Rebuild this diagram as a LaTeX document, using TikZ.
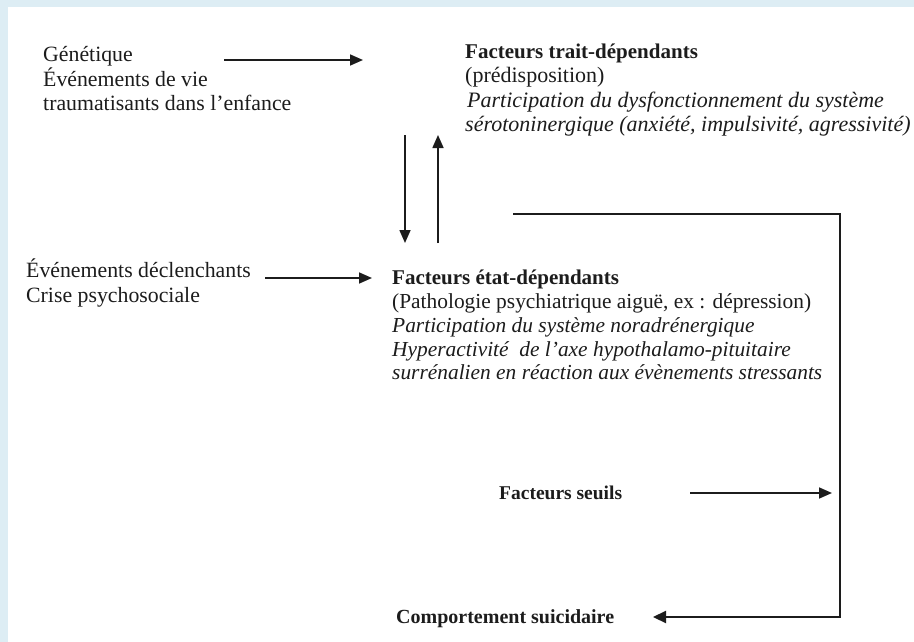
\documentclass[tikz,border=0pt]{standalone}
\usepackage{fontspec}
\setmainfont{Liberation Serif}
\usetikzlibrary{arrows.meta}

\definecolor{pageblue}{RGB}{221,237,244}
\definecolor{ink}{RGB}{28,28,28}

\begin{document}
\begin{tikzpicture}[x=1pt,y=-1pt,
    lbl/.style={anchor=north west,inner sep=0pt,align=left,text=ink,
        font=\fontsize{21.8}{24.8}\selectfont},
    arr/.style={draw=ink,line width=1.6pt,-{Triangle[length=13pt,width=11pt]}},
    loopline/.style={draw=ink,line width=2.2pt,-{Triangle[length=13pt,width=12pt]}}]
    \useasboundingbox (0,0) rectangle (914,642);
    \fill[pageblue] (0,0) rectangle (914,642);
    \fill[white] (8,7) rectangle (914,642);

    % causes
    \node[lbl] (gen) at (43,46) {Génétique\\Événements de vie\\traumatisants dans l’enfance};
    \node[lbl] (decl) at (26,259) {Événements déclenchants\\Crise psychosociale};

    % facteurs
    \node[lbl,font=\fontsize{22}{24.2}\selectfont] (trait) at (465,44)
        {\textbf{\fontsize{21}{24.2}\selectfont Facteurs trait-dépendants}\\(prédisposition)\\
        \textit{\hspace{2pt}Participation du dysfonctionnement du système}\\
        \textit{sérotoninergique (anxiété, impulsivité, agressivité)}};
    \node[lbl,font=\fontsize{21.4}{23.8}\selectfont] (etat) at (392,270)
        {\textbf{\fontsize{21}{23.8}\selectfont Facteurs état-dépendants}\\
        (Pathologie psychiatrique aiguë, ex : dépression)\\
        \textit{Participation du système noradrénergique}\\
        \textit{Hyperactivité\ \ de l’axe hypothalamo-pituitaire}\\
        \textit{surrénalien en réaction aux évènements stressants}};
    \node[lbl,anchor=base west,font=\fontsize{19.5}{22}\selectfont\bfseries] (seuil) at (499,499) {Facteurs seuils};
    \node[lbl,anchor=base west,font=\fontsize{20}{22}\selectfont\bfseries] (suic) at (396,623) {Comportement suicidaire};

    % arrow ends
    \coordinate (genR) at (224,60);
    \coordinate (traitL) at (363,60);
    \coordinate (traitB) at (405,135);
    \coordinate (etatT) at (405,243);
    \coordinate (etatB) at (438,243);
    \coordinate (traitD) at (438,135);
    \coordinate (declR) at (265,278);
    \coordinate (etatL) at (372,278);
    \coordinate (loopA) at (513,214);
    \coordinate (loopC) at (840,617);
    \coordinate (suicR) at (653,617);
    \coordinate (seuilR) at (690,493);
    \coordinate (loopS) at (832,493);

    \draw[arr] (genR) -- (traitL);
    \draw[arr] (traitB) -- (etatT);
    \draw[arr] (etatB) -- (traitD);
    \draw[arr] (declR) -- (etatL);
    \draw[arr] (seuilR) -- (loopS);
    \draw[loopline] (loopA) -| (loopC) -- (suicR);
\end{tikzpicture}
\end{document}
